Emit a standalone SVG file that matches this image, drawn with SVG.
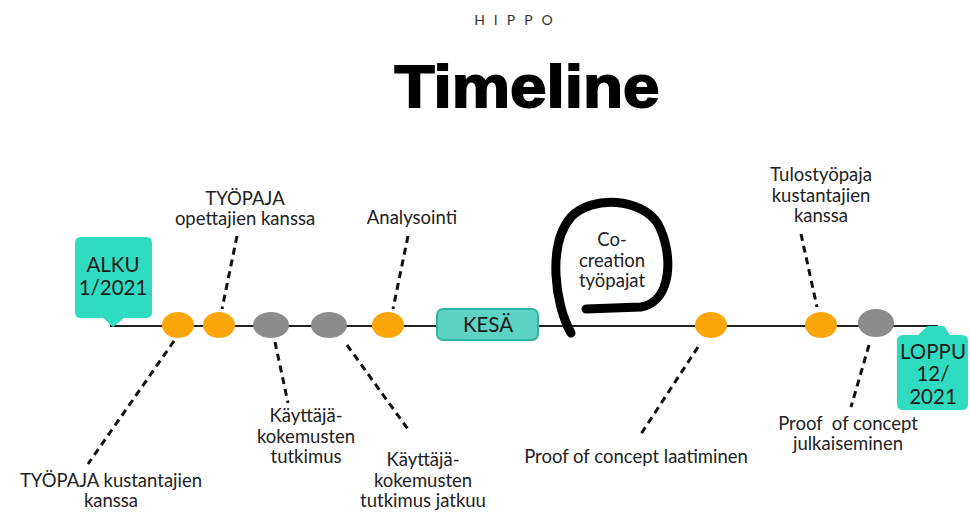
<svg xmlns="http://www.w3.org/2000/svg" width="970" height="512" viewBox="0 0 970 512">
<style>
.t{font-family:Lato,"Open Sans","Liberation Sans",sans-serif;font-size:18.5px;fill:#222;text-anchor:middle}
.c{font-family:Lato,"Open Sans","Liberation Sans",sans-serif;font-size:20.5px;fill:#1a1a1a;text-anchor:middle}
.d{stroke:#111;stroke-width:3;stroke-dasharray:7 5;fill:none}
.o{fill:#FCA60A}
.g{fill:#8C8C8C}
.teal{fill:#2FDCC2}
</style>
<rect width="970" height="512" fill="#fff"/>
<g id="header">
<text x="518" y="25" font-family="Lato,'Open Sans','Liberation Sans',sans-serif" font-size="14" fill="#333" text-anchor="middle" letter-spacing="9">HIPPO</text>
<text x="527" y="107" font-family="'Liberation Sans',Arial,sans-serif" font-weight="900" font-size="59" fill="#000" stroke="#000" stroke-width="1.8" text-anchor="middle" textLength="265" lengthAdjust="spacingAndGlyphs">Timeline</text>
</g>
<g id="connectors">
<line x1="110" y1="326" x2="938" y2="326" stroke="#222" stroke-width="2"/>
<line class="d" x1="237" y1="236" x2="222" y2="309"/>
<line class="d" x1="408" y1="236" x2="393" y2="309"/>
<line class="d" x1="801" y1="234" x2="817" y2="307"/>
<line class="d" x1="174" y1="341" x2="88" y2="464"/>
<line class="d" x1="275" y1="342" x2="288" y2="403"/>
<line class="d" x1="347" y1="345" x2="410" y2="432"/>
<line class="d" x1="698" y1="347" x2="639" y2="437"/>
<line class="d" x1="869" y1="345" x2="851" y2="407"/>
</g>
<g id="alku">
<path class="teal" d="M81 237 H146 Q152 237 152 243 V312 Q152 318 146 318 H124 L113 327 L103 318 H81 Q75 318 75 312 V243 Q75 237 81 237 Z"/>
<text class="c" x="113" y="272">ALKU</text>
<text class="c" x="113" y="295">1/2021</text>
</g>
<g id="loppu">
<path class="teal" d="M903 335 H918 L928 326 H944 L950 335 H962 Q968 335 968 341 V404 Q968 410 962 410 H903 Q897 410 897 404 V341 Q897 335 903 335 Z"/>
<text class="c" x="933" y="359">LOPPU</text>
<text class="c" x="933" y="381">12/</text>
<text class="c" x="933" y="404">2021</text>
</g>
<g id="kesa">
<rect x="437" y="309" width="101" height="31" rx="6" fill="#5CD3C3" stroke="#33B3A2" stroke-width="2"/>
<text class="c" x="488" y="332">KESÄ</text>
</g>
<g id="cocreation">
<path d="M571 333 C555 305 547 245 571 217 C592 195 642 198 658 224 C674 254 672 302 641 307 L586 309" fill="none" stroke="#000" stroke-width="9" stroke-linecap="round"/>
<text class="t" x="612" y="246">Co-</text>
<text class="t" x="612" y="266.5">creation</text>
<text class="t" x="612" y="287">työpajat</text>
</g>
<g id="e1"><ellipse class="o" cx="178" cy="325" rx="16" ry="13"/>
<text class="t" x="111" y="486.5">TYÖPAJA kustantajien</text><text class="t" x="111" y="507">kanssa</text></g>
<g id="e2"><ellipse class="o" cx="219" cy="325" rx="16" ry="13"/>
<text class="t" x="245" y="204.5">TYÖPAJA</text><text class="t" x="245" y="225">opettajien kanssa</text></g>
<g id="e3"><ellipse class="g" cx="271" cy="325" rx="18" ry="13"/>
<text class="t" x="306" y="422">Käyttäjä-</text><text class="t" x="306" y="442.5">kokemusten</text><text class="t" x="306" y="463">tutkimus</text></g>
<g id="e4"><ellipse class="g" cx="329" cy="325" rx="18" ry="13"/>
<text class="t" x="423" y="466">Käyttäjä-</text><text class="t" x="423" y="486.5">kokemusten</text><text class="t" x="423" y="507">tutkimus jatkuu</text></g>
<g id="e5"><ellipse class="o" cx="388" cy="325" rx="16" ry="13"/>
<text class="t" x="412" y="224">Analysointi</text></g>
<g id="e6"><ellipse class="o" cx="711" cy="325" rx="16" ry="13"/>
<text class="t" x="636" y="463">Proof of concept laatiminen</text></g>
<g id="e7"><ellipse class="o" cx="821" cy="325" rx="16" ry="13"/>
<text class="t" x="821" y="181">Tulostyöpaja</text><text class="t" x="821" y="201.5">kustantajien</text><text class="t" x="821" y="222">kanssa</text></g>
<g id="e8"><ellipse class="g" cx="876" cy="323" rx="18" ry="14"/>
<text class="t" x="848" y="429.5" xml:space="preserve">Proof  of concept</text><text class="t" x="848" y="450">julkaiseminen</text></g>
</svg>
